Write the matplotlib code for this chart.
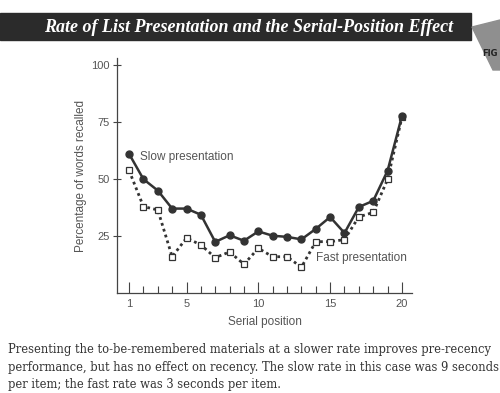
import matplotlib.pyplot as plt
from matplotlib.patches import Rectangle, Polygon

# serial positions and recall percentages
positions = list(range(1, 21))
slow_recall = [61.0, 49.9, 44.9, 37.0, 37.0, 34.3, 22.4, 25.3, 22.9, 27.0,
               25.1, 24.6, 23.5, 28.1, 33.3, 26.3, 37.7, 40.4, 53.6, 77.6]
fast_recall = [53.7, 37.9, 36.4, 15.9, 24.1, 21.1, 15.5, 18.0, 12.6, 19.6,
               15.9, 15.9, 11.3, 22.5, 22.5, 23.4, 33.4, 35.3, 49.8, 77.0]
x_ticks = [1, 5, 10, 15, 20]
y_ticks = [25, 50, 75, 100]

title = 'Rate of List Presentation and the Serial-Position Effect'
caption = ('Presenting the to-be-remembered materials at a slower rate improves pre-recency\n'
           'performance, but has no effect on recency. The slow rate in this case was 9 seconds\n'
           'per item; the fast rate was 3 seconds per item.')

narrow = 'Liberation Sans'
gray = '#555555'

fig = plt.figure(figsize=(5, 3.93), dpi=100)
fig.patch.set_facecolor('white')

# title bar
fig.patches.append(Rectangle((0, 1 - 40 / 393), 471 / 500, 27 / 393,
                             transform=fig.transFigure, color='#2b2b2b', zorder=0))
fig.text(249 / 500, 1 - 27 / 393, title, color='white', family='Liberation Serif',
         style='italic', weight='bold', fontsize=13, ha='center', va='center')
# cropped corner of the figure tab
fig.patches.append(Polygon([(472 / 500, 1 - 27 / 393), (500 / 500, 1 - 20 / 393),
                            (500 / 500, 1 - 70 / 393), (493 / 500, 1 - 70 / 393)],
                           closed=True, transform=fig.transFigure, color='#8f8f8f', zorder=0))
fig.text(482 / 500, 1 - 53 / 393, 'FIG', color='#222222', family='DejaVu Sans',
         weight='bold', fontsize=6, ha='left', va='center')

ax = fig.add_axes([117 / 500, 1 - 293 / 393, 295 / 500, 235 / 393])
ax.plot(positions, fast_recall, color='#333333', lw=2, ls=(0, (1, 1.2)),
        marker='s', ms=5, mfc='white', mec='#333333', mew=0.9, zorder=2)
ax.plot(positions, slow_recall, color='#333333', lw=1.8, ls='-',
        marker='o', ms=5, mfc='#333333', mec='#333333', zorder=3)

ax.text(1.75, 59.5, 'Slow presentation', family=narrow, fontsize=8.5, color=gray,
        ha='left', va='center')
ax.text(14.0, 15.5, 'Fast presentation', family=narrow, fontsize=8.5, color=gray,
        ha='left', va='center')

ax.set_xlim(0.16, 20.7)
ax.set_ylim(0, 103)
ax.set_xticks(x_ticks)
ax.set_xticks(positions, minor=True)
ax.set_yticks(y_ticks)
ax.spines['top'].set_visible(False)
ax.spines['right'].set_visible(False)
for s in ['left', 'bottom']:
    ax.spines[s].set_color('#444444')
    ax.spines[s].set_linewidth(0.9)
ax.tick_params(axis='x', which='major', direction='in', length=8, width=0.8,
               color='#444444', labelsize=8, labelcolor=gray, pad=4)
ax.tick_params(axis='x', which='minor', direction='in', length=5, width=0.8,
               color='#444444')
ax.tick_params(axis='y', direction='inout', length=6, width=0.8,
               color='#444444', labelsize=8, labelcolor=gray, pad=2)
for lab in ax.get_xticklabels() + ax.get_yticklabels():
    lab.set_family(narrow)
ax.set_xlabel('Serial position', family=narrow, fontsize=8.5, color=gray, labelpad=5)
ax.set_ylabel('Percentage of words recalled', family=narrow, fontsize=8.5,
              color=gray, labelpad=3)

fig.text(8 / 500, 1 - 343 / 393, caption, family='DejaVu Serif', fontsize=8.3,
         color='#333333', ha='left', va='top', linespacing=1.45)

fig.savefig('out.png', dpi=100)
